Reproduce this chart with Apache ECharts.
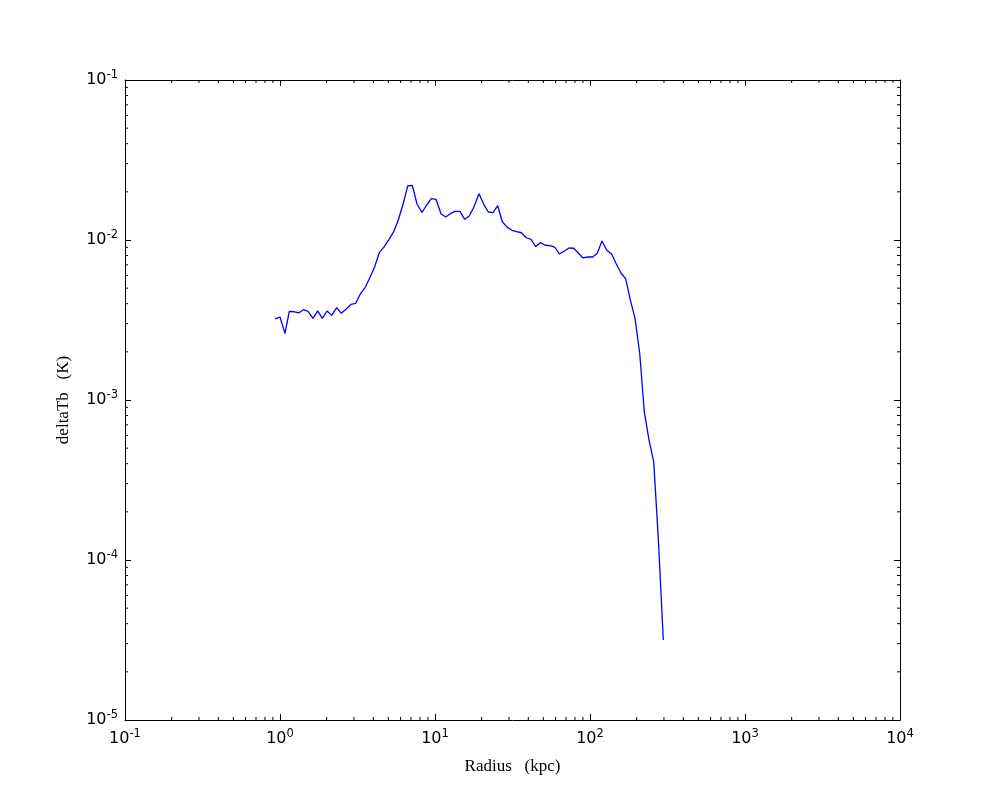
<!DOCTYPE html>
<html>
<head>
<meta charset="utf-8">
<script src="https://cdn.jsdelivr.net/npm/echarts@6/dist/echarts.min.js"></script>
<style>html,body{margin:0;padding:0;background:#fff}#c{width:1000px;height:800px}</style>
</head>
<body>
<div id="c"></div>
<script>
// Radius (kpc)
const radius = [0.928,1.00,1.077,1.148,1.237,1.326,1.413,1.516,1.633,1.751,1.875,2.010,2.156,2.322,2.486,2.666,2.871,3.079,3.297,3.550,3.807,4.083,4.371,4.709,5.050,5.415,5.798,6.245,6.667,7.137,7.654,8.245,8.841,9.465,10.15,10.93,11.72,12.55,13.46,14.50,15.54,16.65,17.85,19.23,20.62,22.08,23.67,25.38,27.18,29.28,31.40,33.66,36.06,38.81,41.65,44.64,47.79,51.47,55.19,59.20,63.39,68.29,73.21,78.49,84.05,90.12,97.07,104.1,111.4,119.5,128.2,138.0,147.8,158.5,170.0,182.0,195.2,209.3,224.0,240.3,257.6,275.8,297.2];
// deltaTb (K)
const deltaTb = [3.21e-3,3.30e-3,2.61e-3,3.58e-3,3.56e-3,3.51e-3,3.67e-3,3.58e-3,3.24e-3,3.61e-3,3.24e-3,3.60e-3,3.38e-3,3.78e-3,3.48e-3,3.69e-3,3.96e-3,4.02e-3,4.60e-3,5.06e-3,5.85e-3,6.81e-3,8.33e-3,9.08e-3,1.010e-2,1.127e-2,1.334e-2,1.696e-2,2.175e-2,2.198e-2,1.679e-2,1.490e-2,1.655e-2,1.812e-2,1.796e-2,1.460e-2,1.393e-2,1.460e-2,1.511e-2,1.511e-2,1.347e-2,1.413e-2,1.614e-2,1.947e-2,1.671e-2,1.496e-2,1.481e-2,1.638e-2,1.301e-2,1.200e-2,1.150e-2,1.127e-2,1.110e-2,1.033e-2,1.010e-2,9.08e-3,9.62e-3,9.27e-3,9.21e-3,9.04e-3,8.18e-3,8.54e-3,8.91e-3,8.88e-3,8.29e-3,7.72e-3,7.83e-3,7.83e-3,8.26e-3,9.86e-3,8.62e-3,8.18e-3,7.08e-3,6.22e-3,5.71e-3,4.22e-3,3.24e-3,1.96e-3,8.45e-4,5.62e-4,4.12e-4,1.37e-4,3.16e-5];
// axis ranges and decade tick exponents
const xExps = [-1,0,1,2,3,4];
const yExps = [-5,-4,-3,-2,-1];
const minorMult = [2,3,4,5,6,7,8,9];

const chart = echarts.init(document.getElementById('c'), null, {renderer:'canvas'});
const labFont = 'DejaVu Sans';
const rich = {
  b:{fontFamily:labFont,fontSize:16,color:'#000'},
  s:{fontFamily:labFont,fontSize:11.5,color:'#000',verticalAlign:'top',padding:[0,0,10,0]}
};
function fmt(v){
  const e = Math.round(Math.log10(v));
  return '{b|10}{s|' + e + '}';
}
const xMin = Math.pow(10, xExps[0]), xMax = Math.pow(10, xExps[xExps.length-1]);
const yMin = Math.pow(10, yExps[0]), yMax = Math.pow(10, yExps[yExps.length-1]);
function xAx(pos, show){
  return {type:'log',logBase:10,min:xMin,max:xMax,position:pos,
    axisLine:{show:true,onZero:false,lineStyle:{color:'#000',width:1}},
    axisTick:{show:true,inside:true,length:6,lineStyle:{color:'#000',width:1}},
    axisLabel:{show:show,margin:8,formatter:fmt,rich:rich},
    splitLine:{show:false}};
}
function yAx(pos, show){
  return {type:'log',logBase:10,min:yMin,max:yMax,position:pos,
    axisLine:{show:true,onZero:false,lineStyle:{color:'#000',width:1}},
    axisTick:{show:true,inside:true,length:6,lineStyle:{color:'#000',width:1}},
    axisLabel:{show:show,margin:7,formatter:fmt,rich:rich},
    splitLine:{show:false}};
}
const xa0 = xAx('bottom', true);
xa0.name = 'Radius\u00a0\u00a0\u00a0(kpc)';
xa0.nameLocation = 'middle';
xa0.nameGap = 38;
xa0.nameTextStyle = {fontFamily:'Liberation Serif',fontSize:17,color:'#000'};
const ya0 = yAx('left', true);
ya0.name = 'deltaTb\u00a0\u00a0\u00a0(K)';
ya0.nameLocation = 'middle';
ya0.nameGap = 53;
ya0.nameTextStyle = {fontFamily:'Liberation Serif',fontSize:17,color:'#000'};

chart.setOption({
  animation:false,
  backgroundColor:'#fff',
  grid:{left:125,right:100,top:80,bottom:80,containLabel:false},
  xAxis:[xa0, xAx('top', false)],
  yAxis:[ya0, yAx('right', false)],
  series:[{
    type:'line',xAxisIndex:0,yAxisIndex:0,
    data: radius.map((r,i)=>[r, deltaTb[i]]),
    showSymbol:false,symbol:'none',
    lineStyle:{color:'#0000ff',width:1.3},
    z:5
  }]
});

// minor ticks on all four sides, placed through the axis scales
const els = [];
const minL = 3;
const gx0 = chart.convertToPixel({xAxisIndex:0}, xMin), gx1 = chart.convertToPixel({xAxisIndex:0}, xMax);
const gy0 = chart.convertToPixel({yAxisIndex:0}, yMin), gy1 = chart.convertToPixel({yAxisIndex:0}, yMax);
for (let i=0;i<xExps.length-1;i++){
  for (const m of minorMult){
    const px = chart.convertToPixel({xAxisIndex:0}, m*Math.pow(10,xExps[i]));
    els.push({type:'line',shape:{x1:px,y1:gy0,x2:px,y2:gy0-minL},style:{stroke:'#000',lineWidth:1}});
    els.push({type:'line',shape:{x1:px,y1:gy1,x2:px,y2:gy1+minL},style:{stroke:'#000',lineWidth:1}});
  }
}
for (let i=0;i<yExps.length-1;i++){
  for (const m of minorMult){
    const py = chart.convertToPixel({yAxisIndex:0}, m*Math.pow(10,yExps[i]));
    els.push({type:'line',shape:{x1:gx0,y1:py,x2:gx0+minL,y2:py},style:{stroke:'#000',lineWidth:1}});
    els.push({type:'line',shape:{x1:gx1,y1:py,x2:gx1-minL,y2:py},style:{stroke:'#000',lineWidth:1}});
  }
}
chart.setOption({graphic:{elements:els}});
</script>
</body>
</html>
